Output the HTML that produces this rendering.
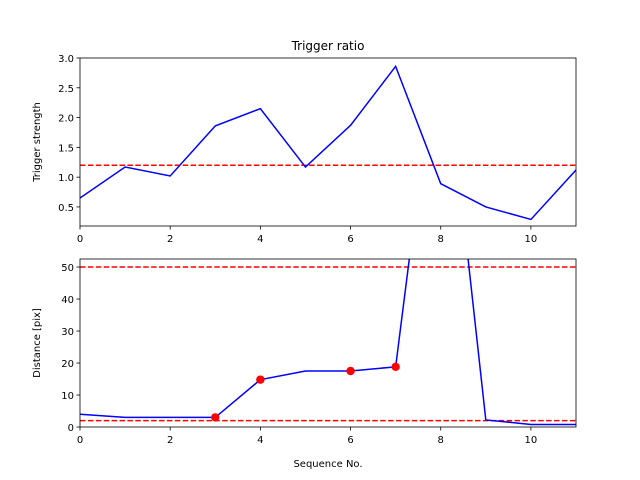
<!DOCTYPE html>
<html><head><meta charset="utf-8"><style>
body{margin:0;background:#fff;}
svg{display:block;font-family:"DejaVu Sans","Liberation Sans",sans-serif;}
</style></head><body>
<svg id="c" width="640" height="480"></svg>
<script>
const seq=[0,1,2,3,4,5,6,7,8,9,10,11];
const strength=[0.65,1.17,1.02,1.86,2.15,1.17,1.87,2.86,0.89,0.5,0.29,1.12];
const strengthThreshold=1.2;
const distance=[4,3,3,3,14.8,17.5,17.5,18.8,130,2.2,0.8,0.8];
const distanceThresholds=[2,50];
const markedIdx=[3,4,6,7];
const xTicks=[0,2,4,6,8,10];
const yTicksTop=[0.5,1.0,1.5,2.0,2.5,3.0];
const yTicksBot=[0,10,20,30,40,50];

const NS="http://www.w3.org/2000/svg";
const svg=document.getElementById('c');
function mk(t,a,p){const e=document.createElementNS(NS,t);for(const k in a)e.setAttribute(k,a[k]);(p||svg).appendChild(e);return e;}
const L=80,R=576;
const x=v=>L+(v-0)/(11-0)*(R-L);
function panel(name,top,bot,ymin,ymax,yTicks,fmt,vals,ths,ylabel,title){
  const y=v=>bot-(v-ymin)/(ymax-ymin)*(bot-top);
  const g=mk('g',{});
  
  
  const cid='clip'+name;
  const cp=mk('clipPath',{id:cid},g);mk('rect',{x:L,y:top,width:R-L,height:bot-top},cp);
  const pg=mk('g',{'clip-path':'url(#'+cid+')'},g);
  ths.forEach(t=>{const l=mk('line',{x1:L,x2:R,y1:y(t),y2:y(t),stroke:'#ff0000','stroke-width':1.5,'stroke-dasharray':'5.5,2.4'},pg);
    });
  const p=mk('polyline',{points:vals.map((v,i)=>x(seq[i])+','+y(v)).join(' '),fill:'none',stroke:'#0000ff','stroke-width':1.5},pg);
  
  const fr=mk('rect',{x:L,y:top,width:R-L,height:bot-top,fill:'none',stroke:'#000','stroke-width':0.8},g);
  
  xTicks.forEach(t=>{mk('line',{x1:x(t),x2:x(t),y1:bot,y2:bot+3.5,stroke:'#000','stroke-width':0.8},g);
    const tx=mk('text',{x:x(t),y:bot+16,'text-anchor':'middle','font-size':10},g);tx.textContent=t;
    });
  yTicks.forEach(t=>{mk('line',{x1:L-3.5,x2:L,y1:y(t),y2:y(t),stroke:'#000','stroke-width':0.8},g);
    const tx=mk('text',{x:L-6,y:y(t)+4,'text-anchor':'end','font-size':10},g);tx.textContent=fmt(t);
    });
  const yl=mk('text',{x:0,y:0,transform:'translate(40,'+(top+bot)/2+') rotate(-90)','text-anchor':'middle','font-size':10},g);
  yl.textContent=ylabel;
  if(title){const tt=mk('text',{x:(L+R)/2,y:top-8,'text-anchor':'middle','font-size':12},g);tt.textContent=title;
    }
  return {y,g,pg};
}
const p1=panel('trigger-panel',58,226,0.18,3.0,yTicksTop,v=>v.toFixed(1),strength,[strengthThreshold],'Trigger strength','Trigger ratio');
const xl1=mk('text',{x:(L+R)/2,y:266,'text-anchor':'middle','font-size':10});xl1.textContent='Sequence No.';

const bg=mk('rect',{x:L,y:259,width:R-L,height:168,fill:'#fff'});
const p2=panel('distance-panel',259,427,0,52.5,yTicksBot,v=>v,distance,distanceThresholds,'Distance [pix]',null);
markedIdx.forEach(i=>{const c=mk('circle',{cx:x(seq[i]),cy:p2.y(distance[i]),r:4.2,fill:'#ff0000'},p2.pg);
  });
const xl2=mk('text',{x:(L+R)/2,y:467,'text-anchor':'middle','font-size':10});xl2.textContent='Sequence No.';

</script>
</body></html>
